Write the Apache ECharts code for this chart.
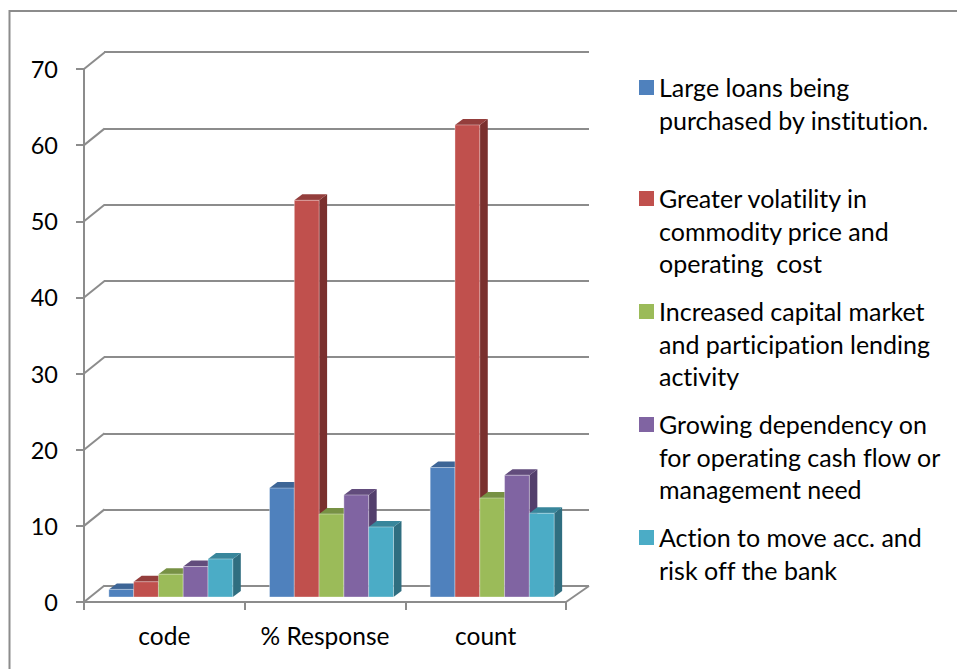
<!DOCTYPE html>
<html>
<head>
<meta charset="utf-8">
<style>html,body{margin:0;padding:0;background:#fff}#c{width:957px;height:669px}
svg text{font-variant-ligatures:none}</style>
<script src="https://cdn.jsdelivr.net/npm/echarts@6/dist/echarts.min.js"></script>
</head>
<body>
<div id="c"></div>
<script>
const categories = ["code", "% Response", "count"];
const seriesNames = [
  "Large loans being\npurchased by institution.",
  "Greater volatility in\ncommodity price and\noperating  cost",
  "Increased capital market\nand participation lending\nactivity",
  "Growing dependency on\nfor operating cash flow or\nmanagement need",
  "Action to move acc. and\nrisk off the bank"
];
const largeLoans = [1, 14.3, 17];
const greaterVolatility = [2, 52.1, 62];
const increasedCapital = [3, 10.9, 13];
const growingDependency = [4, 13.4, 16];
const actionToMove = [5, 9.2, 11];
const yTicks = [0, 10, 20, 30, 40, 50, 60, 70];
const seriesValues = [largeLoans, greaterVolatility, increasedCapital, growingDependency, actionToMove];

const frontColors = ["#4F81BD", "#C0504D", "#9BBB59", "#8064A2", "#4BACC6"];
const topColors = ["#3D6596", "#943E3C", "#779144", "#624C7C", "#38869B"];
const sideColors = ["#345580", "#7A302E", "#67803A", "#533F6C", "#2F6E80"];
const legendTops = [71, 182, 295, 408, 521];
const lineH = 32.5;
const axisGrey = "#8C8C8C";
const FONT = "Lato";

function bar3d(si) {
  return function (params, api) {
    const idx = api.value(0), val = api.value(1);
    const band = api.size([1, 0])[0];
    const w = band * 0.1543;
    const p = api.coord([idx, val]), b = api.coord([idx, 0]);
    const x0 = p[0] + 6.5 + (si - 2.5) * w, x1 = x0 + w;
    const yT = p[1] - 5, yB = b[1] - 5;
    const dx = 8, dy = 6;
    const edge = "rgba(255,255,255,0.35)";
    return {
      type: "group",
      children: [
        { type: "polygon", shape: { points: [[x1, yT], [x1 + dx, yT - dy], [x1 + dx, yB - dy], [x1, yB]] }, style: { fill: sideColors[si] } },
        { type: "polygon", shape: { points: [[x0, yT], [x0 + dx, yT - dy], [x1 + dx, yT - dy], [x1, yT]] }, style: { fill: topColors[si] } },
        { type: "rect", shape: { x: x0, y: yT, width: w, height: yB - yT }, style: { fill: frontColors[si], stroke: edge, lineWidth: 1 } }
      ]
    };
  };
}

function iconFor(lines) {
  const h = lines * lineH;
  return "path://M0 9H15V24H0Z M0 0L0.01 0L0 0.01Z M0 " + h + "L0.01 " + h + "L0 " + (h - 0.01) + "Z";
}

const grey = { color: axisGrey, width: 2 };

const series = seriesNames.map((name, si) => ({
  name,
  type: "custom",
  xAxisIndex: 0,
  yAxisIndex: 0,
  clip: false,
  z: 5 + si,
  itemStyle: { color: frontColors[si] },
  encode: { x: 0, y: 1 },
  data: seriesValues[si].map((v, i) => [i, v]),
  renderItem: bar3d(si)
}));

series.unshift({
  type: "custom",
  xAxisIndex: 0,
  yAxisIndex: 0,
  clip: false,
  silent: true,
  z: 2,
  data: yTicks.map(v => [0, v]),
  encode: { x: 0, y: 1 },
  renderItem: function (params, api) {
    const y = api.coord([0, api.value(1)])[1];
    const r = params.coordSys;
    const kids = [{ type: "line", shape: { x1: r.x, y1: y, x2: r.x + 20.5, y2: y - 16.5 }, style: { stroke: axisGrey, lineWidth: 2 } }];
    if (params.dataIndex === 0) {
      kids.push({ type: "line", shape: { x1: r.x + r.width, y1: y, x2: r.x + r.width + 23, y2: y - 16 }, style: { stroke: axisGrey, lineWidth: 2 } });
    }
    return { type: "group", children: kids };
  }
});

const option = {
  animation: false,
  backgroundColor: "#fff",
  graphic: [{ type: "rect", silent: true, z: 0, shape: { x: 9.5, y: 11, width: 1000, height: 700 }, style: { fill: "none", stroke: "#8C8C8C", lineWidth: 2 } }],
  grid: [
    { left: 84, right: 391, top: 69, bottom: 67 },
    { left: 104, right: 368, top: 52, bottom: 83 }
  ],
  xAxis: [
    {
      type: "category", gridIndex: 0, data: categories, z: 3,
      axisLine: { lineStyle: grey },
      axisTick: { show: true, length: 8, alignWithLabel: false, lineStyle: { color: axisGrey, width: 2 } },
      axisLabel: { color: "#000", fontFamily: FONT, fontSize: 24.5, margin: 21, interval: 0 }
    },
    {
      type: "category", gridIndex: 1, data: categories,
      axisLine: { show: false }, axisTick: { show: false }, axisLabel: { show: false }
    }
  ],
  yAxis: [
    {
      type: "value", gridIndex: 0, min: 0, max: 70, interval: 10, z: 3,
      axisLine: { show: true, lineStyle: { color: axisGrey, width: 2 } },
      axisTick: { show: true, length: 8, lineStyle: { color: axisGrey, width: 2 } },
      axisLabel: { color: "#000", fontFamily: FONT, fontSize: 23.5, margin: 26, padding: [4, 0, 0, 0] },
      splitLine: { show: false }
    },
    {
      type: "value", gridIndex: 1, min: 0, max: 70, interval: 10,
      axisLine: { show: false }, axisTick: { show: false }, axisLabel: { show: false },
      splitLine: { show: true, lineStyle: grey }
    }
  ],
  legend: seriesNames.map((name, si) => {
    const lines = name.split("\n").length;
    return {
      data: [name],
      orient: "vertical",
      left: 639,
      top: legendTops[si],
      padding: 0,
      selectedMode: false,
      itemWidth: 15,
      itemHeight: lines * lineH,
      icon: iconFor(lines),
      textStyle: { color: "#000", fontFamily: FONT, fontSize: 25, lineHeight: lineH }
    };
  }),
  series
};
echarts.init(document.getElementById("c"), null, { renderer: "svg" }).setOption(option);
</script>
</body>
</html>
